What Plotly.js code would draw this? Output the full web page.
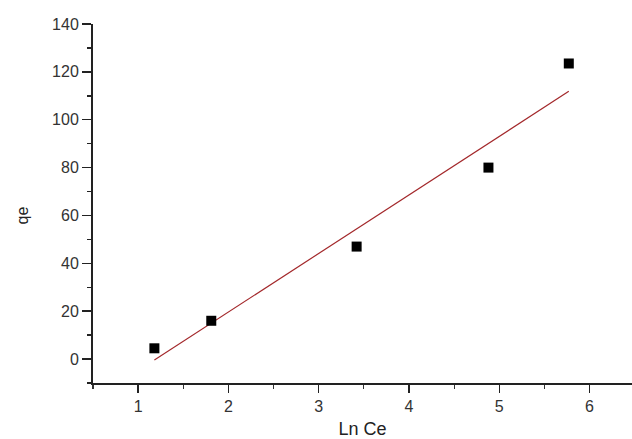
<!DOCTYPE html>
<html>
<head>
<meta charset="utf-8">
<script src="https://cdn.plot.ly/plotly-3.0.1.min.js"></script>
<style>
  html, body { margin: 0; padding: 0; background: #fff; }
  #chart { width: 632px; height: 439px; }
</style>
</head>
<body>
<div id="chart"></div>
<script>
// Adsorption data: ln(Ce) versus qe
const lnCe = [1.18, 1.81, 3.42, 4.88, 5.77];
const qe = [4.5, 16, 47, 80, 123.5];

// Axis ticks
const xTicks = [1, 2, 3, 4, 5, 6];
const yTicks = [0, 20, 40, 60, 80, 100, 120, 140];

// Least-squares line through the measured points
function linearFit(xs, ys) {
  const n = xs.length;
  const mx = xs.reduce((a, b) => a + b, 0) / n;
  const my = ys.reduce((a, b) => a + b, 0) / n;
  let sxy = 0, sxx = 0;
  for (let i = 0; i < n; i++) {
    sxy += (xs[i] - mx) * (ys[i] - my);
    sxx += (xs[i] - mx) * (xs[i] - mx);
  }
  const slope = sxy / sxx;
  return { slope, intercept: my - slope * mx };
}
const fit = linearFit(lnCe, qe);
const fitX = [Math.min(...lnCe), Math.max(...lnCe)];
const fitY = fitX.map(x => fit.intercept + fit.slope * x);

const font = 'Liberation Sans, Arial, sans-serif';

const traces = [
  {
    x: fitX, y: fitY, mode: 'lines', type: 'scatter',
    line: { color: '#a3282b', width: 1.2 },
    hoverinfo: 'skip'
  },
  {
    x: lnCe, y: qe, mode: 'markers', type: 'scatter',
    marker: { symbol: 'square', size: 10, color: '#000' }
  }
];

const layout = {
  width: 632, height: 439,
  margin: { l: 93, r: 0, t: 24, b: 56 },
  paper_bgcolor: '#fff', plot_bgcolor: '#fff',
  showlegend: false,
  font: { family: font, color: '#333' },
  xaxis: {
    range: [0.5, 6.47],
    tickvals: xTicks,
    ticks: 'outside', ticklen: 8, tickwidth: 1.5, tickcolor: '#222',
    minor: { dtick: 0.5, ticks: 'outside', ticklen: 4, tickwidth: 1.2, tickcolor: '#333', showgrid: false },
    showline: true, linecolor: '#222', linewidth: 2,
    showgrid: false, zeroline: false,
    tickfont: { size: 16, color: '#333' },
    title: { text: 'Ln Ce', font: { size: 18, color: '#222' }, standoff: 9 }
  },
  yaxis: {
    range: [-10, 140],
    tickvals: yTicks,
    ticks: 'outside', ticklen: 9, tickwidth: 1.5, tickcolor: '#222',
    minor: { dtick: 10, ticks: 'outside', ticklen: 4, tickwidth: 1.5, tickcolor: '#222', showgrid: false },
    showline: true, linecolor: '#222', linewidth: 2,
    showgrid: false, zeroline: false,
    tickfont: { size: 16, color: '#333' },
    title: { text: '', font: { size: 16, color: '#222' } }
  },
  annotations: [
    {
      // y-axis label, set slightly below the axis midpoint
      text: 'qe', textangle: -90, showarrow: false,
      xref: 'paper', yref: 'y', x: -0.13, y: 60,
      xanchor: 'center', yanchor: 'middle',
      font: { family: font, size: 16, color: '#222' }
    }
  ]
};

Plotly.newPlot('chart', traces, layout, { displayModeBar: false, staticPlot: true });
</script>
</body>
</html>
